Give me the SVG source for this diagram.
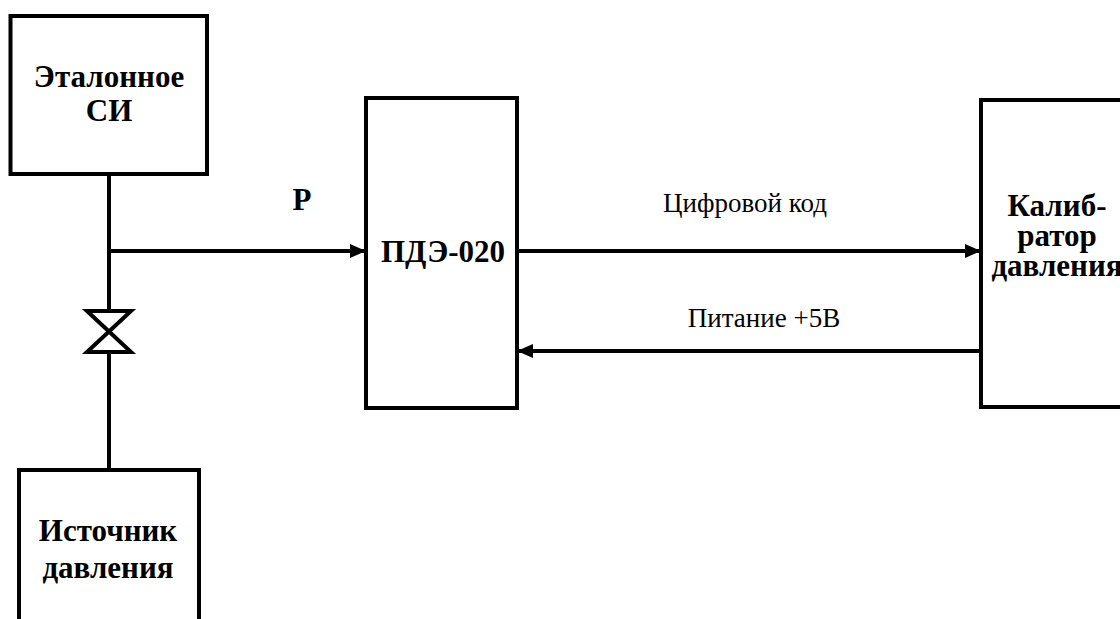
<svg xmlns="http://www.w3.org/2000/svg" width="1120" height="619" viewBox="0 0 1120 619">
<defs>
<style>
.box{fill:#fff;stroke:#000;stroke-width:4}
.ln{fill:none;stroke:#000;stroke-width:4}
.b{font-family:'Liberation Serif','Times New Roman',serif;font-weight:bold;font-size:31px;text-anchor:middle;fill:#000}
.r{font-family:'Liberation Serif','Times New Roman',serif;font-size:27px;text-anchor:middle;fill:#000}
</style>
<marker id="ah" viewBox="0 0 16 16" refX="16" refY="8" markerWidth="16" markerHeight="16" markerUnits="userSpaceOnUse" orient="auto">
<path d="M0,1 L16,8 L0,15 Z" fill="#000"/>
</marker>
</defs>
<rect width="1120" height="619" fill="#fff"/>
<g id="connectors">
<line class="ln" x1="109" y1="174" x2="109" y2="311"/>
<line class="ln" x1="109" y1="352" x2="109" y2="470"/>
<line class="ln" x1="109" y1="251" x2="366" y2="251" marker-end="url(#ah)"/>
<line class="ln" x1="517" y1="251" x2="981" y2="251" marker-end="url(#ah)"/>
<line class="ln" x1="981" y1="351" x2="517" y2="351" marker-end="url(#ah)"/>
<path class="ln" d="M87,311 L131,311 L87,352 L131,352 Z" stroke-width="3.5" fill="#fff" stroke-linejoin="miter"/>
<text class="b" x="302" y="210">P</text>
<text class="r" x="745" y="212">Цифровой код</text>
<text class="r" x="764" y="327">Питание +5В</text>
</g>
<g id="etalon">
<rect class="box" x="10.5" y="16" width="196.5" height="158"/>
<text class="b" x="109" y="87">Эталонное</text>
<text class="b" x="109" y="121">СИ</text>
</g>
<g id="source">
<rect class="box" x="19" y="470" width="180" height="170"/>
<text class="b" x="108" y="541">Источник</text>
<text class="b" x="108" y="578">давления</text>
</g>
<g id="pde">
<rect class="box" x="366" y="98" width="151" height="310"/>
<text class="b" x="443" y="262">ПДЭ-020</text>
</g>
<g id="calibrator">
<rect class="box" x="981" y="100" width="160" height="307"/>
<text class="b" x="1057" y="216">Калиб-</text>
<text class="b" x="1057" y="246">ратор</text>
<text class="b" x="1057" y="276">давления</text>
</g>
</svg>
